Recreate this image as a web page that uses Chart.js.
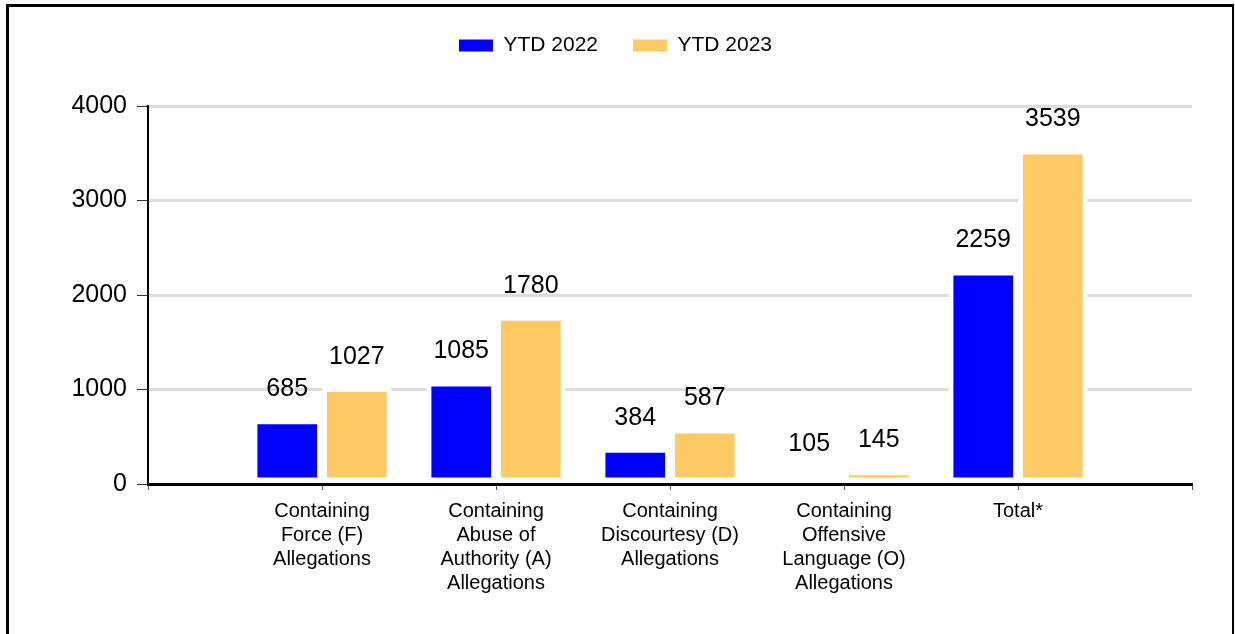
<!DOCTYPE html>
<html>
<head>
<meta charset="utf-8">
<title>YTD Allegations</title>
<script src="https://cdn.jsdelivr.net/npm/chart.js@4.4.0/dist/chart.umd.min.js"></script>
<style>
    html, body { margin: 0; padding: 0; background: #fff; }
    #wrap { position: relative; width: 1235px; height: 634px; overflow: hidden; background: #fff; }
    #frame {
        position: absolute; left: 6px; top: 4px; width: 1223px; height: 700px;
        border-top: 3px solid #000; border-left: 3px solid #000; border-right: 2px solid #000;
    }
    #chart { position: absolute; left: 0; top: 0; }
</style>
</head>
<body>
<div id="wrap">
    <div id="frame"></div>
    <canvas id="chart" width="1235" height="634"></canvas>
</div>
<script>
// chart data
const categories = [
    ['Containing', 'Force (F)', 'Allegations'],
    ['Containing', 'Abuse of', 'Authority (A)', 'Allegations'],
    ['Containing', 'Discourtesy (D)', 'Allegations'],
    ['Containing', 'Offensive', 'Language (O)', 'Allegations'],
    ['Total*']
];
const ytd2022 = [685, 1085, 384, 105, 2259];
const ytd2023 = [1027, 1780, 587, 145, 3539];
const yTicks = [0, 1000, 2000, 3000, 4000];

const FONT = '"Liberation Sans", Arial, sans-serif';
Chart.defaults.font.family = FONT;
Chart.defaults.color = '#000';

// empty slot at each end of the axis, like the original
const labels = [''].concat(categories, ['']);
const pad = arr => [null].concat(arr, [null]);

// numbers above the bars
const valueLabels = {
    id: 'valueLabels',
    afterDatasetsDraw(chart) {
        const ctx = chart.ctx;
        ctx.save();
        ctx.font = '25px ' + FONT;
        ctx.fillStyle = '#000';
        ctx.textAlign = 'center';
        ctx.textBaseline = 'middle';
        chart.data.datasets.forEach((ds, i) => {
            chart.getDatasetMeta(i).data.forEach((bar, j) => {
                if (ds.data[j] == null) return;
                ctx.fillText(String(ds.data[j]), bar.x, bar.y - 30);
            });
        });
        ctx.restore();
    }
};

// leave room under the legend
const legendSpace = {
    id: 'legendSpace',
    afterInit(chart) {
        const fit = chart.legend.fit;
        chart.legend.fit = function () {
            fit.call(this);
            this.height = 106;
        };
    }
};

const ctx = document.getElementById('chart').getContext('2d');
new Chart(ctx, {
    type: 'bar',
    data: {
        labels: labels,
        datasets: [
            {
                label: 'YTD 2022',
                data: pad(ytd2022),
                backgroundColor: '#0000ff',
                borderColor: '#ffffff',
                borderWidth: 5,
                borderSkipped: false
            },
            {
                label: 'YTD 2023',
                data: pad(ytd2023),
                backgroundColor: '#ffca66',
                borderColor: '#ffffff',
                borderWidth: 5,
                borderSkipped: false
            }
        ]
    },
    options: {
        responsive: false,
        maintainAspectRatio: false,
        animation: false,
        categoryPercentage: 0.8,
        barPercentage: 1,
        layout: { padding: { left: 10, right: 14, top: 0, bottom: 0 } },
        plugins: {
            tooltip: { enabled: false },
            legend: {
                position: 'top',
                align: 'center',
                labels: {
                    boxWidth: 34,
                    boxHeight: 12,
                    padding: 35,
                    color: '#000',
                    font: { size: 21 },
                    generateLabels(chart) {
                        const items = Chart.defaults.plugins.legend.labels.generateLabels(chart);
                        items.forEach(it => {
                            it.lineWidth = 0;
                            it.strokeStyle = it.fillStyle;
                        });
                        return items;
                    }
                }
            }
        },
        scales: {
            x: {
                offset: false,
                grid: {
                    offset: false,
                    drawOnChartArea: false,
                    drawTicks: true,
                    tickLength: 6,
                    tickColor: '#555',
                    tickWidth: 1
                },
                border: { display: true, color: '#000', width: 3, z: 1 },
                ticks: {
                    autoSkip: false,
                    maxRotation: 0,
                    minRotation: 0,
                    padding: 9,
                    color: '#000',
                    font: { size: 20, lineHeight: 1.2 }
                },
                afterFit(scale) {
                    scale.height = 150;
                    scale.paddingRight = 43;
                }
            },
            y: {
                min: yTicks[0],
                max: yTicks[yTicks.length - 1],
                ticks: {
                    stepSize: yTicks[1] - yTicks[0],
                    padding: 10,
                    color: '#000',
                    font: { size: 25 },
                    callback: v => String(v)
                },
                grid: {
                    color: c => (c.tick && c.tick.value === 0 ? 'rgba(0,0,0,0)' : '#dcdcdc'),
                    lineWidth: 3,
                    drawTicks: true,
                    tickLength: 11,
                    tickColor: '#333',
                    tickWidth: 1
                },
                border: { display: true, color: '#000', width: 2, z: 1 },
                afterFit(scale) {
                    scale.width = 138;
                }
            }
        }
    },
    plugins: [valueLabels, legendSpace]
});
</script>
</body>
</html>
